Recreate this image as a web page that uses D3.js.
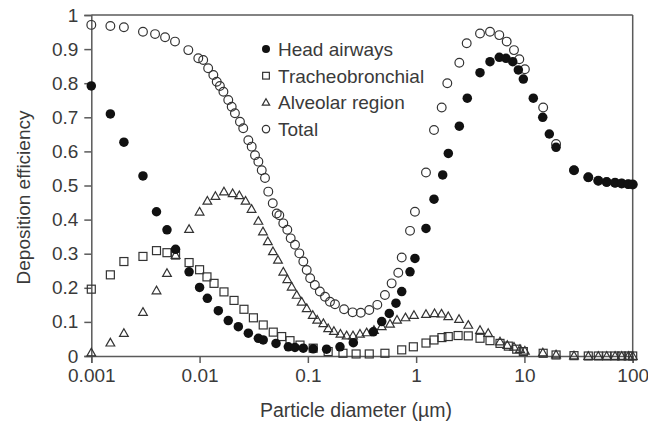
<!DOCTYPE html>
<html>
<head>
<meta charset="utf-8">
<script src="https://cdn.jsdelivr.net/npm/d3@7"></script>
<style>
  html, body { margin: 0; padding: 0; background: #fff; }
  svg { display: block; }
  text { font-family: "Liberation Sans", Arial, Helvetica, sans-serif; fill: #3a3a3a; }
</style>
</head>
<body>
<svg id="chart" width="648" height="424"></svg>
<script>
// Particle diameters (µm) and deposition efficiencies for each region
const headD = [0.001, 0.0015, 0.002, 0.003, 0.004, 0.005, 0.006, 0.008, 0.01, 0.0118, 0.0149, 0.0184,
  0.0228, 0.0282, 0.0349, 0.0387, 0.0508, 0.066, 0.076, 0.0907, 0.112, 0.149, 0.198, 0.263, 0.402,
  0.481, 0.565, 0.651, 0.736, 0.878, 0.975, 1.233, 1.462, 1.759, 1.982, 2.505, 2.967, 3.89, 4.81,
  5.86, 6.76, 7.8, 8.79, 9.77, 12.08, 14.76, 16.98, 19.59, 28.7, 38.9, 48.1, 57.5, 68.7, 79.1, 91, 100];
const headV = [0.792, 0.710, 0.627, 0.528, 0.423, 0.370, 0.313, 0.247, 0.201, 0.169, 0.133, 0.104,
  0.086, 0.067, 0.052, 0.047, 0.037, 0.027, 0.025, 0.023, 0.021, 0.020, 0.027, 0.039, 0.071,
  0.101, 0.125, 0.155, 0.189, 0.247, 0.286, 0.374, 0.460, 0.531, 0.594, 0.674, 0.756, 0.831, 0.863,
  0.876, 0.873, 0.863, 0.839, 0.812, 0.756, 0.700, 0.651, 0.612, 0.545, 0.524, 0.514, 0.510, 0.508, 0.506, 0.504, 0.503];

const tbD = [0.001, 0.0015, 0.002, 0.003, 0.004, 0.005, 0.006, 0.008, 0.01, 0.0117, 0.0136, 0.0168,
  0.0208, 0.0257, 0.0314, 0.0387, 0.0479, 0.0573, 0.0684, 0.0846, 0.112, 0.154, 0.211, 0.279, 0.369,
  0.515, 0.736, 0.942, 1.233, 1.462, 1.73, 1.98, 2.44, 3.03, 3.89, 4.81, 5.95, 7.1, 8.49, 9.77,
  14.9, 19.6, 28.7, 38.9, 48.1, 57.5, 68.7, 79.1, 91, 100];
const tbV = [0.196, 0.238, 0.277, 0.292, 0.309, 0.303, 0.296, 0.274, 0.253, 0.232, 0.213, 0.188,
  0.163, 0.137, 0.112, 0.091, 0.070, 0.057, 0.045, 0.032, 0.023, 0.013, 0.008, 0.006, 0.006,
  0.008, 0.018, 0.027, 0.038, 0.047, 0.054, 0.057, 0.060, 0.059, 0.052, 0.045, 0.037, 0.029, 0.020, 0.013,
  0.008, 0.003, 0.001, 0, 0, 0, 0, 0, 0, 0];

const alvD = [0.001, 0.0015, 0.002, 0.003, 0.004, 0.005, 0.006, 0.008, 0.01, 0.0118, 0.014, 0.0168,
  0.0202, 0.0233, 0.0266, 0.0302, 0.0349, 0.0385, 0.0427, 0.0476, 0.053, 0.0593, 0.0646, 0.0709,
  0.0789, 0.0877, 0.0976, 0.111, 0.122, 0.139, 0.154, 0.174, 0.2, 0.228, 0.261, 0.303, 0.349, 0.408,
  0.481, 0.574, 0.666, 0.797, 0.955, 1.233, 1.479, 1.715, 1.98, 2.49, 3.03, 3.89, 4.63, 5.95, 6.95,
  8.01, 9.1, 10.1, 14.8, 19.6, 28.7, 38.9, 48.1, 57.5, 68.7, 79.1, 91, 100];
const alvV = [0.010, 0.039, 0.067, 0.129, 0.192, 0.243, 0.296, 0.372, 0.423, 0.455, 0.469, 0.482,
  0.477, 0.471, 0.455, 0.431, 0.396, 0.365, 0.336, 0.307, 0.282, 0.247, 0.225, 0.203,
  0.179, 0.159, 0.140, 0.120, 0.106, 0.096, 0.081, 0.073, 0.065, 0.060, 0.060, 0.065, 0.069, 0.076,
  0.087, 0.094, 0.106, 0.113, 0.120, 0.123, 0.125, 0.124, 0.116, 0.108, 0.091, 0.076, 0.067, 0.042, 0.032,
  0.027, 0.020, 0.015, 0.010, 0.004, 0.001, 0, 0, 0, 0, 0, 0, 0];

const totD = [0.001, 0.0015, 0.002, 0.003, 0.00388, 0.0048, 0.00593, 0.00787, 0.00973, 0.0108, 0.012,
  0.0134, 0.0144, 0.0154, 0.0166, 0.0184, 0.0198, 0.0212, 0.0236, 0.0253, 0.0282, 0.0303, 0.0325,
  0.0349, 0.0375, 0.0402, 0.0431, 0.0474, 0.0516, 0.0545, 0.0593, 0.0646, 0.0694, 0.0761, 0.0834,
  0.0908, 0.0976, 0.105, 0.116, 0.129, 0.144, 0.16, 0.178, 0.216, 0.259, 0.308, 0.369, 0.438, 0.515,
  0.594, 0.684, 0.736, 0.878, 0.975, 1.233, 1.462, 1.722, 1.94, 2.505, 2.93, 3.89, 4.81, 5.86, 6.86,
  8.01, 8.97, 10.1, 14.9, 19.6, 28.7, 38.9, 48.1, 57.5, 68.7, 79.1, 91, 100];
const totV = [0.971, 0.968, 0.964, 0.951, 0.944, 0.935, 0.922, 0.897, 0.873, 0.868, 0.844,
  0.824, 0.804, 0.792, 0.775, 0.751, 0.731, 0.712, 0.687, 0.668, 0.633, 0.614, 0.589,
  0.570, 0.545, 0.522, 0.482, 0.448, 0.418, 0.413, 0.389, 0.370, 0.345, 0.326, 0.301,
  0.277, 0.252, 0.228, 0.208, 0.189, 0.174, 0.159, 0.152, 0.137, 0.128, 0.127, 0.135, 0.150, 0.179,
  0.213, 0.244, 0.289, 0.367, 0.423, 0.538, 0.663, 0.729, 0.800, 0.860, 0.917, 0.946, 0.951, 0.941, 0.922,
  0.897, 0.870, 0.841, 0.729, 0.622, 0.545, 0.524, 0.514, 0.510, 0.508, 0.506, 0.504, 0.503];

const seriesNames = ["Head airways", "Tracheobronchial", "Alveolar region", "Total"];
const xTicks = [0.001, 0.01, 0.1, 1, 10, 100];
const xTickLabels = ["0.001", "0.01", "0.1", "1", "10", "100"];
const yTicks = [0, 0.1, 0.2, 0.3, 0.4, 0.5, 0.6, 0.7, 0.8, 0.9, 1];
const yTickLabels = ["0", "0.1", "0.2", "0.3", "0.4", "0.5", "0.6", "0.7", "0.8", "0.9", "1"];
const xTitle = "Particle diameter (\u00b5m)";
const yTitle = "Deposition efficiency";

const svg = d3.select("#chart");
const plotLeft = 91.3, plotRight = 632.7, plotTop = 15, plotBottom = 356;
const x = d3.scaleLog().domain([0.001, 100]).range([plotLeft, plotRight]);
const y = d3.scaleLinear().domain([0, 1]).range([plotBottom, plotTop]);

const ink = "#3a3a3a";
const frame = "#5a5a5a";
const fontSize = 19;

// frame: top and right edges
svg.append("line").attr("x1", plotLeft).attr("x2", plotRight).attr("y1", plotTop).attr("y2", plotTop)
  .attr("stroke", frame).attr("stroke-width", 1.5);
svg.append("line").attr("x1", plotRight).attr("x2", plotRight).attr("y1", plotTop).attr("y2", plotBottom)
  .attr("stroke", frame).attr("stroke-width", 1.5);

// x axis
const gx = svg.append("g").attr("transform", `translate(0,${plotBottom})`)
  .call(d3.axisBottom(x).tickValues(xTicks).tickFormat((d, i) => xTickLabels[i]).tickSizeOuter(0).tickSize(7).tickPadding(6));
// y axis
const gy = svg.append("g").attr("transform", `translate(${plotLeft},0)`)
  .call(d3.axisLeft(y).tickValues(yTicks).tickFormat((d, i) => yTickLabels[i]).tickSizeOuter(0).tickSize(7).tickPadding(6));
[gx, gy].forEach(g => {
  g.select(".domain").attr("stroke", frame).attr("stroke-width", 1.5);
  g.selectAll(".tick line").attr("stroke", frame).attr("stroke-width", 1.5);
  g.selectAll(".tick text").attr("font-size", fontSize).attr("fill", ink)
    .style("font-family", "'Liberation Sans', Arial, sans-serif");
});

// axis titles
svg.append("text").attr("x", 356).attr("y", 417)
  .attr("text-anchor", "middle").attr("font-size", 19.5).text(xTitle);
svg.append("text").attr("transform", `translate(30,${(plotTop + plotBottom) / 2 + 12}) rotate(-90)`)
  .attr("text-anchor", "middle").attr("font-size", fontSize).text(yTitle);

// marker shapes
const stroke = "#333";
function drawMarker(g, kind, cx, cy, s) {
  if (kind === "dot") {
    g.append("circle").attr("cx", cx).attr("cy", cy).attr("r", s * 0.5).attr("fill", "#111");
  } else if (kind === "square") {
    const h = s * 0.42;
    g.append("rect").attr("x", cx - h).attr("y", cy - h).attr("width", 2 * h).attr("height", 2 * h)
      .attr("fill", "none").attr("stroke", stroke).attr("stroke-width", 1.2);
  } else if (kind === "triangle") {
    const h = s * 0.46;
    g.append("path").attr("d", `M${cx},${cy - h}L${cx + h},${cy + h * 0.75}L${cx - h},${cy + h * 0.75}Z`)
      .attr("fill", "none").attr("stroke", stroke).attr("stroke-width", 1.2);
  } else {
    g.append("circle").attr("cx", cx).attr("cy", cy).attr("r", s * 0.46)
      .attr("fill", "none").attr("stroke", stroke).attr("stroke-width", 1.2);
  }
}

const series = [
  { name: seriesNames[3], d: totD, v: totV, kind: "ring" },
  { name: seriesNames[2], d: alvD, v: alvV, kind: "triangle" },
  { name: seriesNames[1], d: tbD, v: tbV, kind: "square" },
  { name: seriesNames[0], d: headD, v: headV, kind: "dot" }
];

const plot = svg.append("g");
series.forEach(s => {
  const g = plot.append("g");
  s.d.forEach((d, i) => drawMarker(g, s.kind, x(d), y(s.v[i]), 9.5));
});

// legend
const legend = svg.append("g");
const legendOrder = [["dot", seriesNames[0]], ["square", seriesNames[1]], ["triangle", seriesNames[2]], ["ring", seriesNames[3]]];
legendOrder.forEach(([kind, label], i) => {
  const cy = 49 + i * 26.7;
  drawMarker(legend, kind, 266, cy, 8);
  legend.append("text").attr("x", 278).attr("y", cy + 7).attr("font-size", fontSize).text(label);
});
</script>
</body>
</html>
